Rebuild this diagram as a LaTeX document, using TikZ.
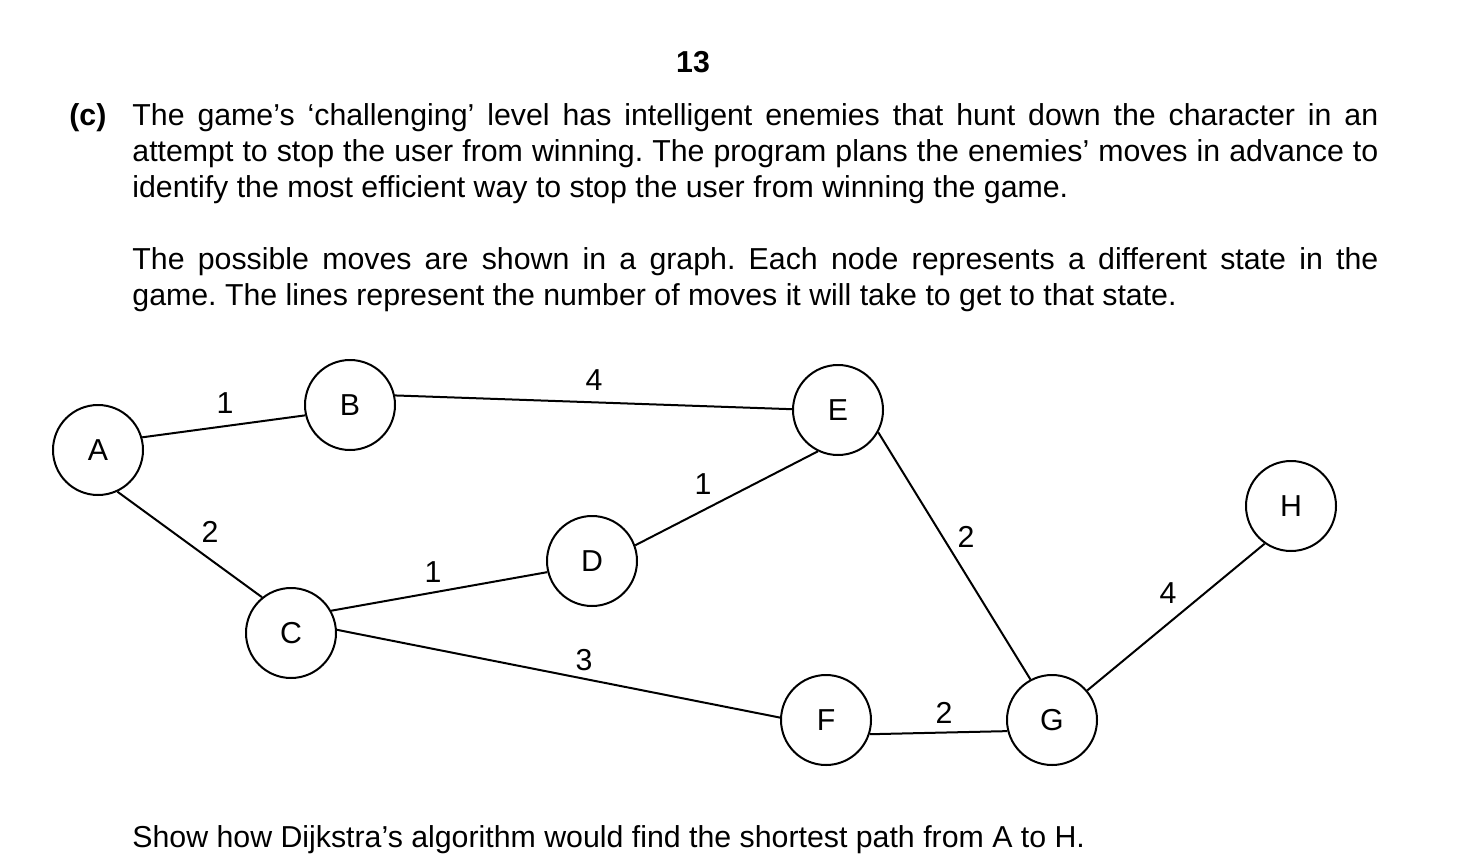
\documentclass[tikz,border=0pt]{standalone}
\usepackage{fontspec}
\setmainfont{Liberation Sans}
\usepackage{tikz}
\frenchspacing

\tikzset{
  state/.style={draw, circle, line width=1pt, minimum size=45pt, inner sep=0pt},
  move/.style={line width=1pt},
  cost/.style={inner sep=0pt},
  para/.style={anchor=north west, inner sep=0pt, text width=623pt, align=justify},
}

\begin{document}
\begin{tikzpicture}[x=0.5pt,y=-0.5pt,font=\fontsize{15.15}{18}\selectfont]
\useasboundingbox (0,0) rectangle (1476,856);
% question text
\node[font=\fontsize{15.15}{18}\selectfont\bfseries] (page) at (693,62) {13};
\node[anchor=north west, inner sep=0pt, font=\fontsize{15.15}{18}\selectfont\bfseries] (part) at (69,103) {(c)};
\node[para] (intro) at (132,103) {The game’s ‘challenging’ level has intelligent enemies that hunt down the character in an\linebreak attempt to stop the user from winning. The program plans the enemies’ moves in advance to\linebreak identify the most efficient way to stop the user from winning the game.};
\node[para] (info) at (132,247) {The possible moves are shown in a graph. Each node represents a different state in the\linebreak game. The lines represent the number of moves it will take to get to that state.};
% graph
\node[state] (A) at (98,450) {A};
\node[state] (B) at (350,405) {B};
\node[state] (C) at (291,633) {C};
\node[state] (D) at (592,561) {D};
\node[state] (E) at (838,410) {E};
\node[state] (F) at (826,720) {F};
\node[state] (G) at (1052,720) {G};
\node[state] (H) at (1291,506) {H};
\draw[move] (A.16) -- (B.193);
\draw[move] (B.12) -- (E.179);
\draw[move] (A.-65) -- (C.129);
\draw[move] (C.29) -- (D.194);
\draw[move] (D.20) -- (E.244);
\draw[move] (C.4) -- (F.177);
\draw[move] (E.-29) -- (G.118);
\draw[move] (F.-18) -- (G.194);
\draw[move] (G.40) -- (H.235);
\node[cost] (ab) at (225,403) {1};
\node[cost] (be) at (594,380) {4};
\node[cost] (ac) at (210,532) {2};
\node[cost] (cd) at (433,572) {1};
\node[cost] (de) at (703,484) {1};
\node[cost] (cf) at (584,660) {3};
\node[cost] (eg) at (966,537) {2};
\node[cost] (fg) at (944,713) {2};
\node[cost] (gh) at (1168,593) {4};
% task
\node[anchor=north west, inner sep=0pt] (task) at (132,825) {Show how Dijkstra’s algorithm would find the shortest path from A to H.};
\end{tikzpicture}
\end{document}
